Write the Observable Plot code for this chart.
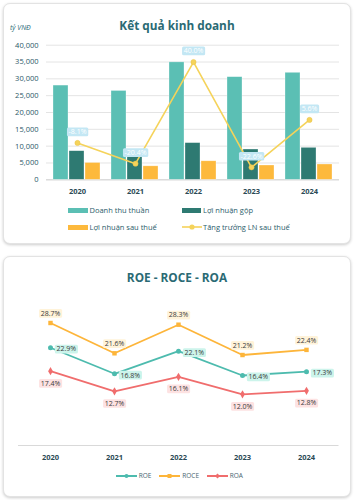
<!DOCTYPE html>
<html><head><meta charset="utf-8">
<script src="https://cdn.jsdelivr.net/npm/d3@7"></script>
<script src="https://cdn.jsdelivr.net/npm/@observablehq/plot@0.6"></script>
<style>
body{margin:0;background:#fff;font-family:"Open Sans",sans-serif;}
#wrap{position:relative;width:354px;height:500px;overflow:hidden;background:#fff;}
.card{position:absolute;left:3px;width:346px;border:1px solid #e3e3e3;border-radius:7px;box-shadow:0 1px 3px rgba(0,0,0,0.2);background:#fff;}
.abs{position:absolute;}
.title{left:0;width:354px;text-align:center;font-weight:700;font-size:11.8px;line-height:18px;color:#2a6a74;}
.lg{font-size:7.5px;line-height:11px;color:#2b5d6b;white-space:nowrap;}
.lg2{font-size:6.5px;line-height:10px;color:#4a6670;white-space:nowrap;}
svg.plotsvg{position:absolute;left:0;}
.sw svg{display:block;}
</style></head><body>
<div id="wrap">
  <div class="card" style="top:3px;height:239px"></div>
  <div class="card" style="top:256px;height:239px"></div>
  <div class="abs title" style="top:16px">Kết quả kinh doanh</div>
  <div class="abs" style="left:10px;top:23px;font-size:7px;line-height:10px;font-style:italic;color:#2e6e7a">tỷ VNĐ</div>
  <div class="abs title" style="top:268px">ROE - ROCE - ROA</div>
</div>
<script>
const years = ["2020","2021","2022","2023","2024"];
const seriesNames = ["Doanh thu thuần","Lợi nhuận gộp","Lợi nhuận sau thuế"];
const revenue = [28000, 26400, 34900, 30500, 31800];
const grossProfit = [8500, 7000, 10900, 9000, 9500];
const netProfit = [5000, 4000, 5500, 4250, 4550];
const growthName = "Tăng trưởng LN sau thuế";
const growth = [-8.1, -20.4, 40.0, -22.6, 5.6];
const yTicks = [0, 5000, 10000, 15000, 20000, 25000, 30000, 35000, 40000];
const ratioNames = ["ROE","ROCE","ROA"];
const roe = [22.9, 16.8, 22.1, 16.4, 17.3];
const roce = [28.7, 21.6, 28.3, 21.2, 22.4];
const roa = [17.4, 12.7, 16.1, 12.0, 12.8];

const barColors = ["#5bbfb4","#2e7a72","#fdb93c"];
const lineColor = "#f5d35a";
const ratioColors = ["#4dbbae","#fdb53a","#f06d6d"];
const ratioBg = ["#ccf4eb","#fff3d9","#fde2e2"];

const wrap = document.getElementById("wrap");
const W = 354;
const font = "Open Sans";

const barData = years.flatMap((y,i)=>[revenue[i],grossProfit[i],netProfit[i]].map((v,j)=>({year:y, series:seriesNames[j], value:v})));
const growthData = years.map((y,i)=>({year:y, g:growth[i]}));
const ratioData = years.flatMap((y,i)=>[
  {year:y, name:"ROE", v:roe[i]},
  {year:y, name:"ROCE", v:roce[i]},
  {year:y, name:"ROA", v:roa[i]}
]);

const topDims = {width:W, height:200, marginLeft:46, marginRight:15, marginTop:44.7, marginBottom:20.7};

const plotA = Plot.plot({
  ...topDims,
  style:{background:"transparent", fontFamily:font},
  x:{type:"point", domain:years, padding:0.5},
  y:{domain:[0,40000]},
  marks:[
    Plot.gridY(yTicks,{stroke:"#e4e4e4", strokeOpacity:1}),
    Plot.ruleY([0],{stroke:"#d4d4d4"}),
    Plot.axisY(yTicks,{tickSize:0, tickPadding:8, tickFormat:d3.format(","), label:null, fontSize:7.5, fill:"#2a5868"}),
    Plot.axisX({tickSize:0, tickPadding:9, fontWeight:"bold", fontSize:7.5, fill:"#2b4a55", label:null})
  ]
});
const plotB = Plot.plot({
  ...topDims,
  style:{background:"transparent", fontFamily:font},
  fx:{domain:years, paddingInner:0.19, paddingOuter:0.095, axis:null, label:null},
  x:{domain:seriesNames, paddingInner:0.08, paddingOuter:0, axis:null},
  y:{domain:[0,40000], axis:null},
  color:{domain:seriesNames, range:barColors},
  marks:[
    Plot.barY(barData,{fx:"year", x:"series", y:"value", fill:"series", stroke:"#ffffff", strokeOpacity:0.5, strokeWidth:0.6})
  ]
});
const plotC = Plot.plot({
  ...topDims,
  style:{background:"transparent", fontFamily:font},
  x:{type:"point", domain:years, padding:0.5, axis:null},
  y:{domain:[-30,50], axis:null},
  marks:[
    Plot.line(growthData,{x:"year", y:"g", stroke:lineColor, strokeWidth:1.6}),
    Plot.dot(growthData,{x:"year", y:"g", r:2.6, fill:lineColor, stroke:"#e8c24a", strokeWidth:0.5}),
    Plot.text(growthData,{x:"year", y:"g", text:d=>d.g.toFixed(1)+"%", dy:-11, fill:"#ffffff", stroke:"#c3e7f4", strokeWidth:2, fontSize:7})
  ]
});
[plotA, plotB, plotC].forEach(p=>{p.classList.add("plotsvg"); p.style.top="0px"; wrap.appendChild(p);});

const plotD = Plot.plot({
  width:W, height:215, marginTop:45.6, marginBottom:20, marginLeft:18, marginRight:15.5,
  style:{background:"transparent", fontFamily:font},
  x:{type:"point", domain:years, padding:0.5, axis:null},
  y:{domain:[0,35], axis:null},
  color:{domain:ratioNames, range:ratioColors},
  symbol:{domain:ratioNames, range:["circle","square","diamond"]},
  marks:[
    Plot.ruleY([0],{stroke:"#d9d9d9", strokeWidth:1}),
    Plot.axisX({tickSize:0, tickPadding:9, fontWeight:"bold", fontSize:7.5, fill:"#2b4a55", label:null}),
    Plot.line(ratioData,{x:"year", y:"v", z:"name", stroke:"name", strokeWidth:1.8}),
    Plot.dot(ratioData,{x:"year", y:"v", fill:"name", symbol:"name", r:2.5}),
    Plot.text(ratioData,{filter:d=>d.name==="ROE", x:"year", y:"v", text:d=>d.v.toFixed(1)+"%", dx:6, dy:1.5, textAnchor:"start", fill:"#3a3a3a", stroke:ratioBg[0], strokeWidth:2, fontSize:7}),
    Plot.text(ratioData,{filter:d=>d.name==="ROCE", x:"year", y:"v", text:d=>d.v.toFixed(1)+"%", dy:-9.5, fill:"#3a3a3a", stroke:ratioBg[1], strokeWidth:2, fontSize:7}),
    Plot.text(ratioData,{filter:d=>d.name==="ROA", x:"year", y:"v", text:d=>d.v.toFixed(1)+"%", dy:12.3, fill:"#3a3a3a", stroke:ratioBg[2], strokeWidth:2, fontSize:7})
  ]
});
plotD.classList.add("plotsvg");
plotD.style.top = "250px";
wrap.appendChild(plotD);

const NS = "http://www.w3.org/2000/svg";
document.querySelectorAll('g[aria-label="text"]').forEach(g=>{
  g.querySelectorAll("text").forEach(t=>{
    const bg = t.getAttribute("stroke") || g.getAttribute("stroke");
    if (!bg) return;
    const b = t.getBBox();
    const r = document.createElementNS(NS,"rect");
    r.setAttribute("x", b.x-1.6); r.setAttribute("y", b.y+0.3);
    r.setAttribute("width", b.width+3.2); r.setAttribute("height", b.height-0.3);
    r.setAttribute("rx", 1.5);
    r.setAttribute("fill", bg); r.setAttribute("stroke","none");
    if (t.getAttribute("transform")) r.setAttribute("transform", t.getAttribute("transform"));
    t.parentNode.insertBefore(r, t);
  });
});

function addDiv(cls, style, html){const d=document.createElement("div"); d.className="abs "+cls; d.setAttribute("style",style); d.innerHTML=html; wrap.appendChild(d); return d;}
const topLegend = [
  {name:seriesNames[0], color:barColors[0], kind:"rect", x:68, y:210.7},
  {name:seriesNames[1], color:barColors[1], kind:"rect", x:181.5, y:210.7},
  {name:seriesNames[2], color:barColors[2], kind:"rect", x:68, y:227.3},
  {name:growthName, color:lineColor, kind:"line", x:181.5, y:227.3}
];
topLegend.forEach(it=>{
  if (it.kind==="rect") {
    addDiv("", `left:${it.x}px;top:${it.y-2.5}px;width:19.5px;height:5px;background:${it.color}`, "");
  } else {
    addDiv("sw", `left:${it.x}px;top:${it.y-4}px;width:20px;height:8px`,
      `<svg width="20" height="8"><line x1="0" x2="20" y1="4" y2="4" stroke="${it.color}" stroke-width="1.6"/><circle cx="10" cy="4" r="2.6" fill="${it.color}"/></svg>`);
  }
  addDiv("lg", `left:${it.x+21.5}px;top:${it.y-5.5}px`, it.name);
});

const botLegend = [
  {name:ratioNames[0], color:ratioColors[0], sym:"circle", x:115.7},
  {name:ratioNames[1], color:ratioColors[1], sym:"square", x:159.3},
  {name:ratioNames[2], color:ratioColors[2], sym:"diamond", x:206.7}
];
botLegend.forEach(it=>{
  const mk = it.sym==="circle" ? `<circle cx="10.5" cy="4" r="2" fill="${it.color}"/>`
    : it.sym==="square" ? `<rect x="8.5" y="2" width="4" height="4" fill="${it.color}"/>`
    : `<path d="M10.5 1.5 L13 4 L10.5 6.5 L8 4Z" fill="${it.color}"/>`;
  addDiv("sw", `left:${it.x}px;top:${475.7-4}px;width:21px;height:8px`,
    `<svg width="21" height="8"><line x1="0" x2="21" y1="4" y2="4" stroke="${it.color}" stroke-width="2"/>${mk}</svg>`);
  addDiv("lg2", `left:${it.x+23}px;top:${475.7-5}px`, it.name);
});
</script>
</body></html>
